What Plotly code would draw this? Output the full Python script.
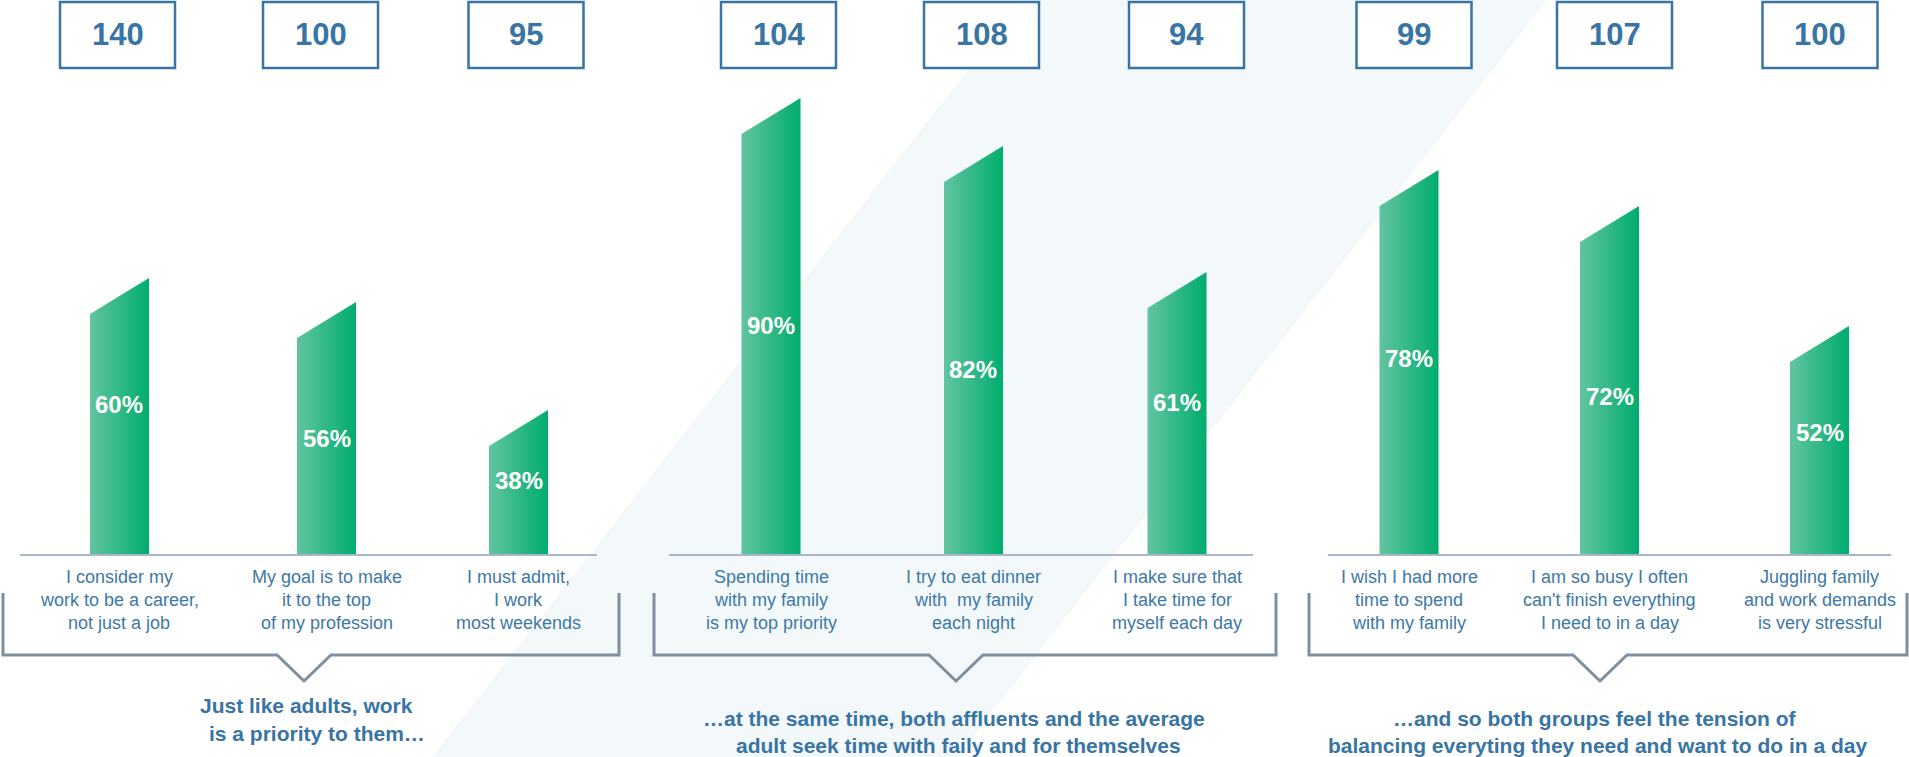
import plotly.graph_objects as go

# ---- data -------------------------------------------------------------
statements = [
    "I consider my\nwork to be a career,\nnot just a job",
    "My goal is to make\nit to the top\nof my profession",
    "I must admit,\nI work\nmost weekends",
    "Spending time\nwith my family\nis my top priority",
    "I try to eat dinner\nwith\u00a0 my family\neach night",
    "I make sure that\nI take time for\nmyself each day",
    "I wish I had more\ntime to spend\nwith my family",
    "I am so busy I often\ncan't finish everything\nI need to in a day",
    "Juggling family\nand work demands\nis very stressful",
]
agree_pct = [60, 56, 38, 90, 82, 61, 78, 72, 52]
index_vs_avg = [140, 100, 95, 104, 108, 94, 99, 107, 100]
group_titles = [
    ["Just like adults, work", "is a priority to them\u2026"],
    ["\u2026at the same time, both affluents and the average",
     "adult seek time with faily and for themselves"],
    ["\u2026and so both groups feel the tension of",
     "balancing everyting they need and want to do in a day"],
]

# ---- layout constants (pixels) -----------------------------------------
W, H = 1909, 757
bar_x = [119.5, 326.5, 518.5, 771, 973.5, 1177, 1409, 1609.5, 1819.5]
box_x = [117.5, 320.5, 526, 778.5, 981.5, 1186.5, 1414, 1614.5, 1820]
pct_label_y = [404, 438, 480, 326, 369, 402, 358, 396, 432]
BAR_W = 59
BASE = 20          # value at which the bars stand on the baseline
SLANT = 6.0        # rise of the bevelled top, in value units
PX_PER_UNIT = 6.0
BASE_PX = 554
y_top = BASE + BASE_PX / PX_PER_UNIT
y_bot = BASE - (H - BASE_PX) / PX_PER_UNIT

BLUE = "#3874a4"
TEXT_BLUE = "#3d78a6"
GREY = "#7f8f9d"
LINE = "#a9b7c6"
SANS = "Liberation Sans, Arial, Helvetica, sans-serif"


def px(x):
    return x / W


def py(y):
    return 1 - y / H


def label(x, y, text, size, color, **kw):
    return dict(x=px(x), y=py(y), xref="paper", yref="paper",
                xanchor="center", yanchor="middle", text=text,
                showarrow=False, font=dict(family=SANS, size=size, color=color),
                **kw)


fig = go.Figure()

# bevel-topped bars with a horizontal green gradient
for xc, v in zip(bar_x, agree_pct):
    xl, xr = xc - BAR_W / 2, xc + BAR_W / 2
    fig.add_trace(go.Scatter(
        x=[xl, xl, xr, xr, xl],
        y=[BASE, v, v + SLANT, BASE, BASE],
        mode="lines",
        line=dict(width=0),
        fill="toself",
        fillgradient=dict(type="horizontal",
                          colorscale=[[0, "#62c4a0"], [1, "#00ad6e"]]),
        hoverinfo="skip",
        showlegend=False,
    ))

annotations = []
shapes = []

# diagonal light band behind everything
shapes.append(dict(
    type="path", xref="paper", yref="paper", layer="below",
    path=(f"M {px(1022)},{py(0)} L {px(1547)},{py(0)} "
          f"L {px(957)},{py(H)} L {px(432)},{py(H)} Z"),
    fillcolor="#f3f8fb", line=dict(width=0),
))

# percentage labels inside the bars
for xc, v, ly in zip(bar_x, agree_pct, pct_label_y):
    annotations.append(label(xc, ly, f"<b>{v}%</b>", 24, "white"))

# index boxes along the top
BOX_W, BOX_T, BOX_B = 115, 2, 68
for xc, val in zip(box_x, index_vs_avg):
    shapes.append(dict(
        type="rect", xref="paper", yref="paper",
        x0=px(xc - BOX_W / 2), x1=px(xc + BOX_W / 2),
        y0=py(BOX_B), y1=py(BOX_T),
        line=dict(color=BLUE, width=2.5), fillcolor="white",
    ))
    annotations.append(label(xc, 35, f"<b>{val}</b>", 31, BLUE))

# statement text under each bar
for xc, text in zip(bar_x, statements):
    for i, line in enumerate(text.split("\n")):
        annotations.append(label(xc, 577 + 23 * i, line, 18, TEXT_BLUE))

# baselines, brackets and group summaries
baselines = [(20, 597), (669, 1253), (1328, 1891)]
brackets = [(3, 619, 304), (654, 1276, 956), (1309, 1907, 1600)]
title_pos = [[(306, 705), (317, 733)],
             [(954, 718), (958, 745)],
             [(1595, 718), (1597, 745)]]

for (x0, x1) in baselines:
    shapes.append(dict(
        type="line", xref="paper", yref="paper",
        x0=px(x0), x1=px(x1), y0=py(BASE_PX + 1), y1=py(BASE_PX + 1),
        line=dict(color=LINE, width=2),
    ))

for (l, r, c) in brackets:
    path = (f"M {px(l)},{py(593)} L {px(l)},{py(655)} "
            f"L {px(c - 27)},{py(655)} L {px(c)},{py(681)} "
            f"L {px(c + 27)},{py(655)} L {px(r)},{py(655)} "
            f"L {px(r)},{py(593)}")
    shapes.append(dict(
        type="path", xref="paper", yref="paper", path=path,
        line=dict(color=GREY, width=3),
    ))

for lines, pos in zip(group_titles, title_pos):
    for line, (x, y) in zip(lines, pos):
        annotations.append(label(x, y, f"<b>{line}</b>", 21, BLUE))

fig.update_layout(
    width=W, height=H,
    margin=dict(l=0, r=0, t=0, b=0),
    paper_bgcolor="white", plot_bgcolor="rgba(0,0,0,0)",
    xaxis=dict(range=[0, W], visible=False, fixedrange=True),
    yaxis=dict(range=[y_bot, y_top], visible=False, fixedrange=True),
    shapes=shapes, annotations=annotations,
    showlegend=False,
)

fig.write_html("out.html")
